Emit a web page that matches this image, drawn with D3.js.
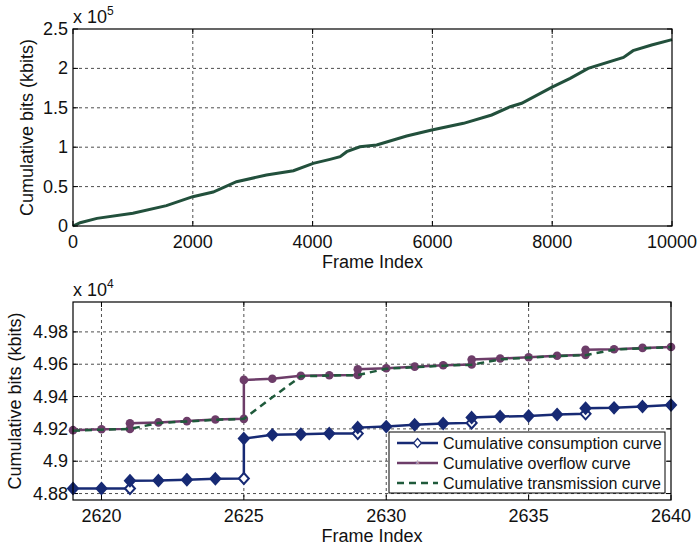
<!DOCTYPE html>
<html>
<head>
<meta charset="utf-8">
<script src="https://cdn.jsdelivr.net/npm/d3@7"></script>
<style>
  body { margin: 0; background: #fff; }
  text { font-family: "Liberation Sans", Arial, sans-serif; fill: #111; }
</style>
</head>
<body>
<svg id="chart"></svg>
<script>
// top panel: whole sequence
let topFrames = [0,120,400,1000,1560,2000,2340,2730,3230,3680,4010,4290,4460,4570,4790,5070,5570,5990,6520,6990,7300,7490,7990,8300,8600,9190,9350,9660,10000];
let topBits = [0,4200,9700,16100,25800,37200,43100,56200,64700,70200,79500,84600,88000,94300,100600,102800,114200,121800,130300,140900,151400,155700,176000,187400,200100,214000,222500,229700,236500];
let topXTicks = [0,2000,4000,6000,8000,10000];
let topYTicks = [0,50000,100000,150000,200000,250000];

// bottom panel: zoom on frames 2619..2640 (kbits)
let consFrames = [2619,2620,2621,2621,2622,2623,2624,2625,2625,2626,2627,2628,2629,2629,2630,2631,2632,2633,2633,2634,2635,2636,2637,2637,2638,2639,2640];
let consBits = [48831,48831,48831,48879,48880,48885,48891,48893,49140,49163,49167,49171,49171,49208,49214,49225,49233,49237,49270,49276,49280,49289,49293,49328,49330,49338,49347];
let overFrames = [2619,2620,2621,2621,2622,2623,2624,2625,2625,2626,2627,2628,2629,2629,2630,2631,2632,2633,2633,2634,2635,2636,2637,2637,2638,2639,2640];
let overBits = [49192,49198,49200,49235,49240,49248,49258,49262,49503,49510,49528,49532,49533,49569,49575,49585,49594,49598,49629,49635,49643,49652,49658,49689,49693,49701,49707];
let transFrames = [2619,2620,2621,2622,2623,2624,2625,2626,2627,2628,2629,2630,2631,2632,2633,2634,2635,2636,2637,2638,2639,2640];
let transBits = [49188,49195,49200,49236,49246,49256,49262,49395,49525,49530,49533,49572,49582,49591,49597,49630,49641,49650,49656,49690,49699,49706];
let botXTicks = [2620,2625,2630,2635,2640];
let botYTicks = [48800,49000,49200,49400,49600,49800];
let botYLabels = ["4.88","4.9","4.92","4.94","4.96","4.98"];
let legendNames = ["Cumulative consumption curve","Cumulative overflow curve","Cumulative transmission curve"];

var W = 699, H = 549;
var navy = "#172a74", purple = "#6d3d69", green = "#1f5a3b", topGreen = "#22503c";

var svg = d3.select("#chart").attr("width", W).attr("height", H);

function panel(box, xDomain, yDomain, xTicks, yTicks, yLabels, expo) {
  var x = d3.scaleLinear().domain(xDomain).range([box.left, box.right]);
  var y = d3.scaleLinear().domain(yDomain).range([box.bottom, box.top]);
  var g = svg.append("g");

  // dashed grid
  g.selectAll(".gx").data(xTicks.filter(t => x(t) > box.left + 1 && x(t) < box.right - 1))
    .enter().append("line")
    .attr("x1", d => x(d)).attr("x2", d => x(d))
    .attr("y1", box.top).attr("y2", box.bottom)
    .attr("stroke", "#222").attr("stroke-width", 0.8).attr("stroke-dasharray", "3,3");
  g.selectAll(".gy").data(yTicks.filter(t => y(t) > box.top + 1 && y(t) < box.bottom - 1))
    .enter().append("line")
    .attr("x1", box.left).attr("x2", box.right)
    .attr("y1", d => y(d)).attr("y2", d => y(d))
    .attr("stroke", "#222").attr("stroke-width", 0.8).attr("stroke-dasharray", "3,3");

  // inner ticks on all four sides
  var tl = 5;
  xTicks.forEach(t => {
    g.append("line").attr("x1", x(t)).attr("x2", x(t)).attr("y1", box.bottom).attr("y2", box.bottom - tl).attr("stroke", "#000");
    g.append("line").attr("x1", x(t)).attr("x2", x(t)).attr("y1", box.top).attr("y2", box.top + tl).attr("stroke", "#000");
  });
  yTicks.forEach(t => {
    g.append("line").attr("x1", box.left).attr("x2", box.left + tl).attr("y1", y(t)).attr("y2", y(t)).attr("stroke", "#000");
    g.append("line").attr("x1", box.right).attr("x2", box.right - tl).attr("y1", y(t)).attr("y2", y(t)).attr("stroke", "#000");
  });

  g.selectAll(".xl").data(xTicks).enter().append("text")
    .attr("x", d => x(d)).attr("y", box.bottom + 22)
    .attr("text-anchor", "middle").attr("font-size", 18)
    .text(d => d);
  g.selectAll(".yl").data(yTicks).enter().append("text")
    .attr("x", box.left - 5).attr("y", d => y(d) + 6)
    .attr("text-anchor", "end").attr("font-size", 18)
    .text((d, i) => yLabels[i]);

  // exponent label
  var ex = g.append("text").attr("x", box.left).attr("y", box.top - 6).attr("font-size", 18);
  ex.append("tspan").text("x 10");
  ex.append("tspan").attr("font-size", 12).attr("dy", -8).text(expo);

  g.append("text").attr("x", (box.left + box.right) / 2).attr("y", box.bottom + 42)
    .attr("text-anchor", "middle").attr("font-size", 18).text("Frame Index");
  g.append("text")
    .attr("transform", `translate(${box.ylab},${(box.top + box.bottom) / 2}) rotate(-90)`)
    .attr("text-anchor", "middle").attr("font-size", 18).text("Cumulative bits (kbits)");

  return {x: x, y: y, g: g};
}

// ---- top panel
var tb = {left: 73, right: 672, top: 29, bottom: 226, ylab: 33};
var p1 = panel(tb, [0, 10000], [0, 250000], topXTicks, topYTicks, ["0","0.5","1","1.5","2","2.5"], "5");
var topPts = topFrames.map((f, i) => [f, topBits[i]]);
p1.g.append("path").datum(topPts)
  .attr("fill", "none").attr("stroke", topGreen).attr("stroke-width", 3)
  .attr("d", d3.line().x(d => p1.x(d[0])).y(d => p1.y(d[1])));
p1.g.append("rect").attr("x", tb.left).attr("y", tb.top)
  .attr("width", tb.right - tb.left).attr("height", tb.bottom - tb.top)
  .attr("fill", "none").attr("stroke", "#000").attr("stroke-width", 1.2);

// ---- bottom panel
var bb = {left: 73, right: 671, top: 302, bottom: 500, ylab: 21};
var p2 = panel(bb, [2619, 2640], [48760, 49985], botXTicks, botYTicks, botYLabels, "4");
var line2 = d3.line().x(d => p2.x(d[0])).y(d => p2.y(d[1]));

var consPts = consFrames.map((f, i) => [f, consBits[i], consFrames[i + 1] === f]);
var overPts = overFrames.map((f, i) => [f, overBits[i]]);
var transPts = transFrames.map((f, i) => [f, transBits[i]]);

p2.g.append("path").datum(consPts)
  .attr("fill", "none").attr("stroke", navy).attr("stroke-width", 2.5).attr("d", line2);
p2.g.selectAll(".dm").data(consPts).enter().append("path")
  .attr("transform", d => `translate(${p2.x(d[0])},${p2.y(d[1])})`)
  .attr("d", "M0,-5.5L5,0L0,5.5L-5,0Z")
  .attr("fill", d => d[2] ? "#fff" : navy)
  .attr("stroke", navy).attr("stroke-width", 2);

p2.g.append("path").datum(overPts)
  .attr("fill", "none").attr("stroke", purple).attr("stroke-width", 2.5).attr("d", line2);
p2.g.selectAll(".ov").data(overPts).enter().append("circle")
  .attr("cx", d => p2.x(d[0])).attr("cy", d => p2.y(d[1])).attr("r", 4.3)
  .attr("fill", purple);

p2.g.append("path").datum(transPts)
  .attr("fill", "none").attr("stroke", green).attr("stroke-width", 2.5)
  .attr("stroke-dasharray", "7,5").attr("d", line2);

p2.g.append("rect").attr("x", bb.left).attr("y", bb.top)
  .attr("width", bb.right - bb.left).attr("height", bb.bottom - bb.top)
  .attr("fill", "none").attr("stroke", "#000").attr("stroke-width", 1.2);

// legend
var lg = svg.append("g").attr("transform", "translate(389,432)");
lg.append("rect").attr("width", 276).attr("height", 61)
  .attr("fill", "#fff").attr("stroke", "#000").attr("stroke-width", 1);
legendNames.forEach((name, i) => {
  var cy = 11 + i * 20;
  var col = [navy, purple, green][i];
  lg.append("line").attr("x1", 8).attr("x2", 49).attr("y1", cy).attr("y2", cy)
    .attr("stroke", col).attr("stroke-width", 2.5)
    .attr("stroke-dasharray", i == 2 ? "7,5" : null);
  if (i == 0) {
    lg.append("path").attr("transform", `translate(28.5,${cy})`)
      .attr("d", "M0,-4.5L4,0L0,4.5L-4,0Z")
      .attr("fill", "#fff").attr("stroke", navy).attr("stroke-width", 1.2);
  }
  if (i == 1) {
    lg.append("text").attr("x", 28.5).attr("y", cy + 6).attr("text-anchor", "middle")
      .attr("font-size", 13).style("fill", "#b9a0b6").text("*");
  }
  lg.append("text").attr("x", 54).attr("y", cy + 5.5).attr("font-size", 16).text(name);
});
</script>
</body>
</html>
